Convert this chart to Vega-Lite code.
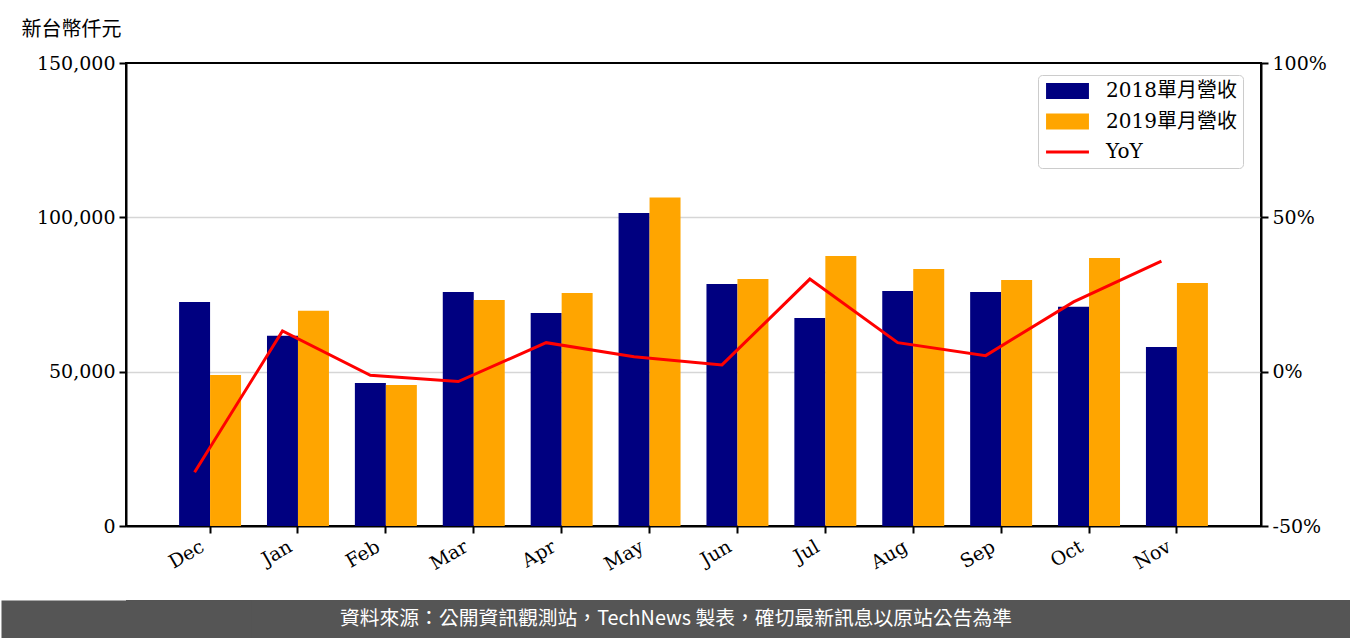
{
  "$schema": "https://vega.github.io/schema/vega-lite/v6.json",
  "background": "white",
  "padding": {"top": 18, "left": 0, "right": 0, "bottom": 0},
  "spacing": 24,
  "datasets": {
    "revenue": [
      {"month": "Dec", "series": "2018單月營收", "value": 72600},
      {"month": "Dec", "series": "2019單月營收", "value": 48900},
      {"month": "Jan", "series": "2018單月營收", "value": 61600},
      {"month": "Jan", "series": "2019單月營收", "value": 69700},
      {"month": "Feb", "series": "2018單月營收", "value": 46300},
      {"month": "Feb", "series": "2019單月營收", "value": 45700},
      {"month": "Mar", "series": "2018單月營收", "value": 75800},
      {"month": "Mar", "series": "2019單月營收", "value": 73200},
      {"month": "Apr", "series": "2018單月營收", "value": 69000},
      {"month": "Apr", "series": "2019單月營收", "value": 75500},
      {"month": "May", "series": "2018單月營收", "value": 101400},
      {"month": "May", "series": "2019單月營收", "value": 106400},
      {"month": "Jun", "series": "2018單月營收", "value": 78400},
      {"month": "Jun", "series": "2019單月營收", "value": 80000},
      {"month": "Jul", "series": "2018單月營收", "value": 67400},
      {"month": "Jul", "series": "2019單月營收", "value": 87500},
      {"month": "Aug", "series": "2018單月營收", "value": 76100},
      {"month": "Aug", "series": "2019單月營收", "value": 83300},
      {"month": "Sep", "series": "2018單月營收", "value": 75800},
      {"month": "Sep", "series": "2019單月營收", "value": 79700},
      {"month": "Oct", "series": "2018單月營收", "value": 71000},
      {"month": "Oct", "series": "2019單月營收", "value": 86800},
      {"month": "Nov", "series": "2018單月營收", "value": 58000},
      {"month": "Nov", "series": "2019單月營收", "value": 78700}
    ],
    "yoy": [
      {"month": "Dec", "yoy": -0.326},
      {"month": "Jan", "yoy": 0.132},
      {"month": "Feb", "yoy": -0.012},
      {"month": "Mar", "yoy": -0.032},
      {"month": "Apr", "yoy": 0.094},
      {"month": "May", "yoy": 0.048},
      {"month": "Jun", "yoy": 0.022},
      {"month": "Jul", "yoy": 0.300},
      {"month": "Aug", "yoy": 0.094},
      {"month": "Sep", "yoy": 0.052},
      {"month": "Oct", "yoy": 0.226},
      {"month": "Nov", "yoy": 0.358}
    ]
  },
  "config": {
    "font": "DejaVu Serif, Noto Sans CJK TC",
    "axis": {
      "labelFont": "DejaVu Serif, Noto Sans CJK TC",
      "labelFontSize": 19,
      "labelColor": "black",
      "domainColor": "black",
      "domainWidth": 2,
      "tickColor": "black",
      "tickWidth": 2,
      "tickSize": 7,
      "labelPadding": 4
    },
    "legend": {
      "labelFont": "DejaVu Serif, Noto Sans CJK TC",
      "labelFontSize": 20,
      "labelColor": "black"
    }
  },
  "vconcat": [
    {
      "width": 1135,
      "height": 463,
      "view": {"stroke": "black", "strokeWidth": 2},
      "layer": [
        {
          "data": {"name": "revenue"},
          "mark": {"type": "bar"},
          "encoding": {
            "x": {
              "field": "month", "type": "nominal",
              "sort": ["Dec","Jan","Feb","Mar","Apr","May","Jun","Jul","Aug","Sep","Oct","Nov"],
              "scale": {"paddingInner": 0.295, "paddingOuter": 0.604},
              "axis": {"title": null, "labelAngle": -30, "labelAlign": "right", "labelBaseline": "top", "labelOffset": -12, "grid": false}
            },
            "xOffset": {
              "field": "series", "type": "nominal",
              "sort": ["2018單月營收", "2019單月營收"],
              "scale": {"paddingInner": 0, "paddingOuter": 0}
            },
            "y": {
              "field": "value", "type": "quantitative",
              "scale": {"domain": [0, 150000], "nice": false},
              "axis": {
                "orient": "left",
                "values": [0, 50000, 100000, 150000],
                "format": ",d",
                "title": "新台幣仟元",
                "titleAngle": 0,
                "titleX": -105,
                "titleY": -34,
                "titleAlign": "left",
                "titleBaseline": "middle",
                "titleFont": "Noto Sans CJK TC",
                "titleFontSize": 20,
                "titleFontWeight": "normal",
                "titleColor": "black",
                "grid": true,
                "gridColor": {"condition": {"test": "datum.value === 0 || datum.value === 150000", "value": "transparent"}, "value": "#d6d6d6"},
                "gridWidth": 1.5
              }
            },
            "color": {
              "field": "series", "type": "nominal",
              "scale": {"domain": ["2018單月營收", "2019單月營收", "YoY"], "range": ["#000080", "#FFA500", "#FF0000"]},
              "legend": {
                "title": null,
                "orient": "none",
                "legendX": 912,
                "legendY": 12,
                "padding": 6,
                "strokeColor": "#cccccc",
                "fillColor": "white",
                "cornerRadius": 4,
                "rowPadding": 10.5,
                "symbolSize": 900,
                "labelOffset": 42,
                "encode": {
                  "symbols": {
                    "update": {
                      "shape": {"signal": "datum.label === 'YoY' ? 'M-0.53,0H2.33' : 'M-0.53,-0.53H2.33V0.53H-0.53Z'"},
                      "fill": {"signal": "datum.label === 'YoY' ? 'transparent' : scale('color', datum.value)"},
                      "stroke": {"signal": "scale('color', datum.value)"},
                      "strokeWidth": {"signal": "datum.label === 'YoY' ? 3 : 0"},
                      "opacity": {"value": 1}
                    }
                  }
                }
              }
            }
          }
        },
        {
          "data": {"name": "yoy"},
          "mark": {"type": "line", "strokeWidth": 3},
          "encoding": {
            "x": {
              "field": "month", "type": "nominal",
              "sort": ["Dec","Jan","Feb","Mar","Apr","May","Jun","Jul","Aug","Sep","Oct","Nov"],
              "bandPosition": 0.25
            },
            "y": {
              "field": "yoy", "type": "quantitative",
              "scale": {"domain": [-0.5, 1], "nice": false},
              "axis": {
                "orient": "right",
                "values": [-0.5, 0, 0.5, 1],
                "labelExpr": "round(datum.value * 100) + '%'",
                "title": null,
                "grid": false
              }
            },
            "color": {"datum": "YoY", "legend": null}
          }
        }
      ],
      "resolve": {"scale": {"y": "independent"}}
    },
    {
      "width": 1225,
      "height": 38,
      "view": {"fill": "#555555", "stroke": null},
      "data": {"values": [{"note": "資料來源：公開資訊觀測站，TechNews 製表，確切最新訊息以原站公告為準", "px": 0.5, "py": 0.5}]},
      "mark": {"type": "text", "color": "white", "font": "Noto Sans CJK TC", "fontSize": 19.8},
      "encoding": {
        "text": {"field": "note"},
        "x": {"field": "px", "type": "quantitative", "scale": {"domain": [0.0926, 1], "nice": false, "zero": false}, "axis": null},
        "y": {
          "field": "py", "type": "quantitative", "scale": {"domain": [0, 1]},
          "axis": {
            "orient": "left",
            "domain": true, "domainColor": "#555555", "domainWidth": 250,
            "values": [0.5], "labelExpr": "'|'",
            "labels": true, "labelColor": "#555555", "labelPadding": 112,
            "ticks": true, "tickColor": "transparent", "tickSize": 7,
            "grid": false, "title": null
          }
        }
      }
    }
  ]
}
